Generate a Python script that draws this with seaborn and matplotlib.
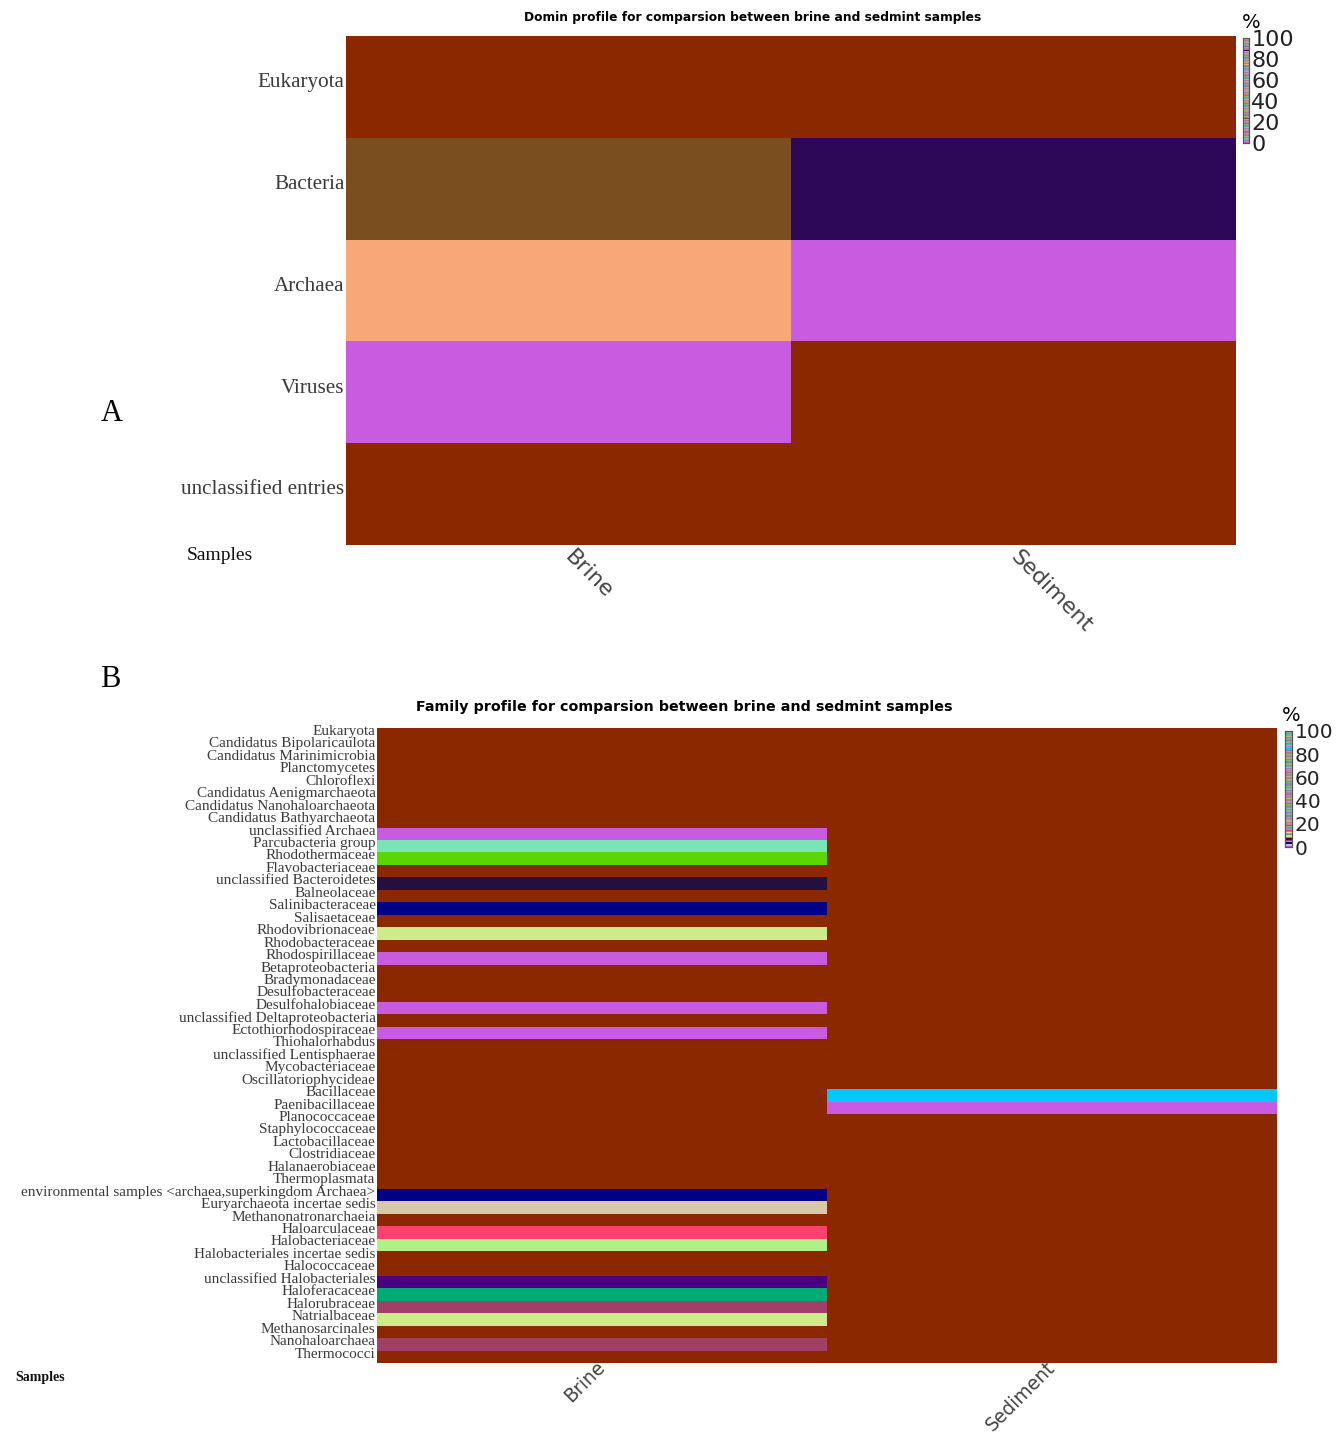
import numpy as np
import pandas as pd
import matplotlib
matplotlib.use("Agg")
import matplotlib.pyplot as plt
import matplotlib.transforms as mtrans
import seaborn as sns
from matplotlib.colors import ListedColormap

# ---- data (relative abundance, %) ----
samples = ["Brine", "Sediment"]

domains = ["Eukaryota", "Bacteria", "Archaea", "Viruses", "unclassified entries"]
domain_brine = [0, 23.4, 74.8, 0.7, 0]
domain_sediment = [0, 88.6, 0.9, 0, 0]

families = [
    "Eukaryota", "Candidatus Bipolaricaulota", "Candidatus Marinimicrobia",
    "Planctomycetes", "Chloroflexi", "Candidatus Aenigmarchaeota",
    "Candidatus Nanohaloarchaeota", "Candidatus Bathyarchaeota",
    "unclassified Archaea", "Parcubacteria group", "Rhodothermaceae",
    "Flavobacteriaceae", "unclassified Bacteroidetes", "Balneolaceae",
    "Salinibacteraceae", "Salisaetaceae", "Rhodovibrionaceae",
    "Rhodobacteraceae", "Rhodospirillaceae", "Betaproteobacteria",
    "Bradymonadaceae", "Desulfobacteraceae", "Desulfohalobiaceae",
    "unclassified Deltaproteobacteria", "Ectothiorhodospiraceae",
    "Thiohalorhabdus", "unclassified Lentisphaerae", "Mycobacteriaceae",
    "Oscillatoriophycideae", "Bacillaceae", "Paenibacillaceae",
    "Planococcaceae", "Staphylococcaceae", "Lactobacillaceae",
    "Clostridiaceae", "Halanaerobiaceae", "Thermoplasmata",
    "environmental samples <archaea,superkingdom Archaea>",
    "Euryarchaeota incertae sedis", "Methanonatronarchaeia",
    "Haloarculaceae", "Halobacteriaceae", "Halobacteriales incertae sedis",
    "Halococcaceae", "unclassified Halobacteriales", "Haloferacaceae",
    "Halorubraceae", "Natrialbaceae", "Methanosarcinales",
    "Nanohaloarchaea", "Thermococci",
]
family_brine = [
    0, 0, 0, 0, 0, 0, 0, 0,
    0.6, 1.4, 4.3, 0, 7.2, 0, 3.1, 0, 12.5, 0, 0.3, 0, 0, 0, 0.2, 0, 0.4,
    0, 0, 0, 0, 0, 0, 0, 0, 0, 0, 0, 0,
    3.7, 2.2, 0, 14.6, 9.3, 0, 0, 6.4, 18.2, 5.3, 12.1, 0, 5.8, 0,
]
family_sediment = [0] * 29 + [84.7, 0.8] + [0] * 20

# ---- colours ----
absent_color = "#8B2800"
domain_bin_colors = {0: "#C95BE0", 23: "#7B4E20", 74: "#F8A878", 88: "#2E0858"}
family_bin_colors = {
    0: "#C95BE0", 1: "#78E6B4", 2: "#D8C8A8", 3: "#000088", 4: "#5AD700",
    5: "#A04068", 6: "#4B0082", 7: "#241040", 9: "#B0F088", 12: "#CDEB8B",
    14: "#FF4070", 18: "#00AA75", 84: "#00C8FF",
}


def striped_cmap(bin_colors):
    # 100 one-percent stripes, muted hues, with the observed cell colours pinned
    base = sns.color_palette("hls", 100, desat=0.45)
    cols = [base[(i * 37) % 100] for i in range(100)]
    for b, c in bin_colors.items():
        cols[b] = c
    return ListedColormap(cols)


serif = "Liberation Serif"
label_color = "#3a3a3a"

fig = plt.figure(figsize=(13.44, 14.33), dpi=100)


def draw_panel(ax, cax, df, cmap, ylab_size, ylab_lift, xlab_size, xrot, xha,
               xpad, cbar_size):
    sns.heatmap(df, mask=(df == 0), cmap=cmap, vmin=0, vmax=100, ax=ax,
                cbar_ax=cax, linewidths=0, xticklabels=True, yticklabels=True)
    ax.set_facecolor(absent_color)
    ax.set_xlabel("")
    ax.set_ylabel("")
    ax.tick_params(length=0)
    ax.tick_params(axis="y", pad=1)
    ax.tick_params(axis="x", pad=xpad)
    ax.set_yticklabels(df.index, family=serif, fontsize=ylab_size,
                       color=label_color, rotation=0)
    lift = mtrans.ScaledTranslation(0, ylab_lift / 72, fig.dpi_scale_trans)
    for lab in ax.get_yticklabels():
        lab.set_transform(lab.get_transform() + lift)
    ax.set_xticklabels(df.columns, fontsize=xlab_size, color="#444444",
                       rotation=xrot, ha=xha, va="center",
                       rotation_mode="anchor")
    cax.set_yticks([0, 20, 40, 60, 80, 100])
    cax.tick_params(length=0, labelsize=cbar_size, pad=2, colors="#222222")
    for s in cax.spines.values():
        s.set_visible(True)
        s.set_color("#555555")
        s.set_linewidth(0.8)


# ---- panel A ----
df_dom = pd.DataFrame({"Brine": domain_brine, "Sediment": domain_sediment},
                      index=domains)
axA = fig.add_axes([0.2574, 0.6197, 0.6622, 0.3552])
caxA = fig.add_axes([0.9245, 0.9002, 0.0045, 0.0733])
draw_panel(axA, caxA, df_dom, striped_cmap(domain_bin_colors),
           15.2, 3, 16, -45, "left", 6, 16)
fig.text(0.5603, 0.9875, "Domin profile for comparsion between brine and sedmint samples",
         ha="center", va="center", fontsize=8.8, fontweight="bold")
fig.text(0.9310, 0.9845, "%", ha="center", va="center", fontsize=14)
fig.text(0.0830, 0.7115, "A", family=serif, fontsize=22, ha="center", va="center")
fig.text(0.1637, 0.6125, "Samples", family=serif, fontsize=14, ha="center",
         va="center", color="#111111")

# ---- panel B ----
df_fam = pd.DataFrame({"Brine": family_brine, "Sediment": family_sediment},
                      index=families)
axB = fig.add_axes([0.2805, 0.0488, 0.6696, 0.4432])
caxB = fig.add_axes([0.9561, 0.4089, 0.0052, 0.0810])
draw_panel(axB, caxB, df_fam, striped_cmap(family_bin_colors),
           11.0, 2, 13.5, 45, "right", 1, 14.5)
fig.text(0.5090, 0.5065, "Family profile for comparsion between brine and sedmint samples",
         ha="center", va="center", fontsize=10.3, fontweight="bold")
fig.text(0.9610, 0.5010, "%", ha="center", va="center", fontsize=14)
fig.text(0.0818, 0.5255, "B", family=serif, fontsize=22, ha="center", va="center")
fig.text(0.0298, 0.0385, "Samples", family=serif, fontsize=10, fontweight="bold",
         ha="center", va="center", color="#111111")

fig.savefig("out.png", dpi=100, facecolor="white")
